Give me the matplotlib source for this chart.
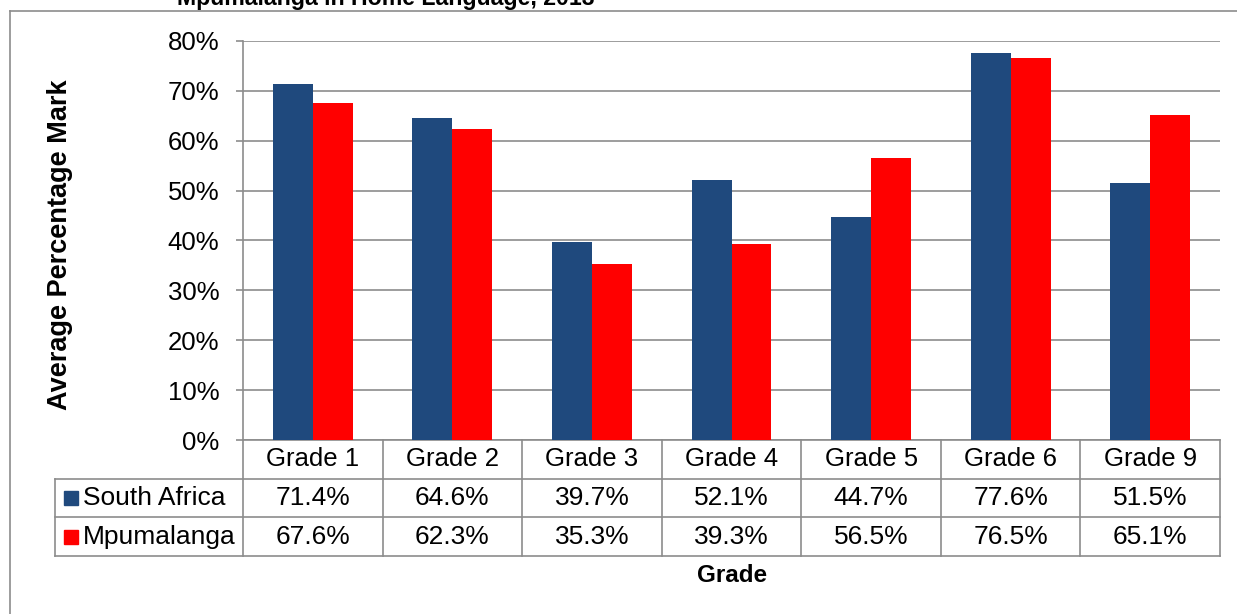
import matplotlib
matplotlib.use('Agg')
import matplotlib.pyplot as plt
import matplotlib.transforms as mtransforms
from matplotlib.lines import Line2D
from matplotlib.patches import Rectangle
import numpy as np

plt.rcParams['font.family'] = ['Liberation Sans', 'DejaVu Sans']

grades = ['Grade 1', 'Grade 2', 'Grade 3', 'Grade 4', 'Grade 5', 'Grade 6', 'Grade 9']
south_africa = [71.4, 64.6, 39.7, 52.1, 44.7, 77.6, 51.5]
mpumalanga = [67.6, 62.3, 35.3, 39.3, 56.5, 76.5, 65.1]
series_names = ['South Africa', 'Mpumalanga']
colors = ['#1F497D', '#FF0000']
yticks = [0, 10, 20, 30, 40, 50, 60, 70, 80]

W, H = 1237, 614
fig = plt.figure(figsize=(W / 100, H / 100), dpi=100)
grey = '#8c8c8c'

# outer chart border (only top and left visible)
fig.add_artist(Line2D([10 / W, 1], [1 - 11 / H, 1 - 11 / H], color=grey, lw=1.2))
fig.add_artist(Line2D([10 / W, 10 / W], [1 - 11 / H, 0], color=grey, lw=1.2))

# title, cut off at top
fig.text(177 / W, 1 - 5 / H, 'Mpumalanga in Home Language, 2013', fontsize=16.7,
         fontweight='bold', ha='left', va='baseline')

x0, x1, ytop, ybot = 243, 1220, 41, 440
ax = fig.add_axes([x0 / W, 1 - ybot / H, (x1 - x0) / W, (ybot - ytop) / H])

x = np.arange(len(grades))
bw = 1 / 3.5
ax.bar(x - bw / 2, south_africa, bw, color=colors[0], zorder=3)
ax.bar(x + bw / 2, mpumalanga, bw, color=colors[1], zorder=3)

ax.set_xlim(-0.5, len(grades) - 0.5)
ax.set_ylim(0, 80)
ax.set_yticks(yticks)
ax.set_yticklabels([f'{v}%' for v in yticks], fontsize=18.5)
ax.set_xticks([])
ax.yaxis.grid(True, color=grey, lw=1.2, zorder=0)
ax.tick_params(axis='y', length=5, width=1.2, color=grey, pad=12)
for s in ['top', 'right', 'bottom']:
    ax.spines[s].set_visible(False)
ax.spines['left'].set_color(grey)
ax.spines['left'].set_linewidth(1.2)

# data table under the plot
rowh = 38.7 / (ybot - ytop)
trans = mtransforms.blended_transform_factory(ax.transData, ax.transAxes)
left = -0.5 + (55 - x0) / (x1 - x0) * len(grades)
right = len(grades) - 0.5
lines_kw = dict(color=grey, lw=1.2, clip_on=False, transform=trans)
ax.add_line(Line2D([-0.5, right], [0, 0], **lines_kw))
for r in range(1, 4):
    ax.add_line(Line2D([left, right], [-r * rowh, -r * rowh], **lines_kw))
ax.add_line(Line2D([left, left], [-rowh, -3 * rowh], **lines_kw))
for i in range(len(grades) + 1):
    ax.add_line(Line2D([i - 0.5, i - 0.5], [0, -3 * rowh], **lines_kw))

for i, g in enumerate(grades):
    ax.text(i, -0.5 * rowh, g, transform=trans, ha='center', va='center', fontsize=18.5)
    ax.text(i, -1.5 * rowh, f'{south_africa[i]:.1f}%', transform=trans,
            ha='center', va='center', fontsize=19)
    ax.text(i, -2.5 * rowh, f'{mpumalanga[i]:.1f}%', transform=trans,
            ha='center', va='center', fontsize=19)

sq = 14
for r, (name, c) in enumerate(zip(series_names, colors)):
    yc = -(1.5 + r) * rowh
    ax.add_patch(Rectangle(((64 - x0) / (x1 - x0), yc - sq / 2 / (ybot - ytop)),
                           sq / (x1 - x0), sq / (ybot - ytop), color=c,
                           transform=ax.transAxes, clip_on=False))
    ax.text((83 - x0) / (x1 - x0), yc, name, transform=ax.transAxes,
            ha='left', va='center', fontsize=19)

fig.text(732 / W, 1 - 576 / H, 'Grade', fontsize=17.5, fontweight='bold',
         ha='center', va='center')
fig.text(60 / W, 1 - 245 / H, 'Average Percentage Mark', fontsize=19.5,
         fontweight='bold', rotation=90, ha='center', va='center')

fig.savefig('out.png', dpi=100)
